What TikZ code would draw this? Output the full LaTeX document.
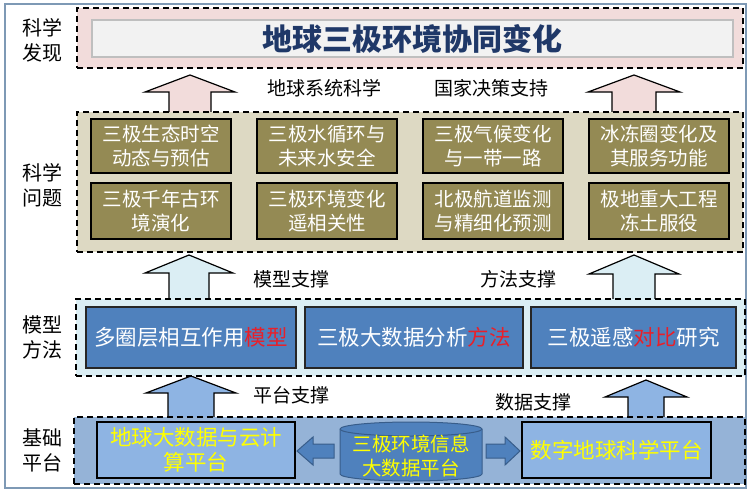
\documentclass[tikz,border=0pt]{standalone}
\usepackage{fontspec}
\setmainfont{Noto Sans CJK SC}
\definecolor{frameC}{HTML}{7E99B5}
\definecolor{pinkC}{HTML}{F2DCDB}
\definecolor{grayBoxC}{HTML}{F2F2F2}
\definecolor{grayLineC}{HTML}{BFBFBF}
\definecolor{titleC}{HTML}{1F3868}
\definecolor{tanC}{HTML}{DDD9C3}
\definecolor{oliveC}{HTML}{948A54}
\definecolor{lblueC}{HTML}{DBEEF4}
\definecolor{blueC}{HTML}{4F81BD}
\definecolor{botC}{HTML}{95B3D7}
\definecolor{botBoxC}{HTML}{8EB4E3}
\definecolor{cylLineC}{HTML}{385D8A}
\definecolor{yellowC}{HTML}{FFFF00}
\definecolor{redC}{HTML}{E8202A}
\newcommand\boxat[7]{\node[#6, anchor=center, inner sep=0pt, outer sep=0pt, minimum width={(#4-#2)*1pt}, minimum height={(#5-#3)*1pt}] (#1) at ({(#2+#4)/2},{(#3+#5)/2}) {#7};}
\newcommand\uparr[7]{\draw[barrow, fill=#7] (#1-#6,#4) -- (#1-#6,#3) -- (#1-#5,#3) -- (#1,#2) -- (#1+#5,#3) -- (#1+#6,#3) -- (#1+#6,#4) -- cycle;}
\begin{document}
\begin{tikzpicture}[x=1pt,y=-1pt,
  layer/.style={draw=black, line width=1.8pt, dash pattern=on 6pt off 4pt},
  olivebox/.style={draw=black, line width=1.5pt, fill=oliveC, text=white, font=\fontsize{19.5}{24}\selectfont, align=center},
  bluebox/.style={draw=black!85, line width=2pt, fill=blueC, text=white, font=\fontsize{21.5}{26}\selectfont},
  botbox/.style={draw=black, line width=2pt, fill=botBoxC, text=yellowC, font=\fontsize{21.5}{25}\selectfont, align=center},
  side/.style={font=\fontsize{20}{25}\selectfont, align=center},
  lab/.style={font=\fontsize{19}{22}\selectfont},
  barrow/.style={draw=black, line width=1.2pt, line join=miter},
  smallarr/.style={draw=cylLineC, line width=1pt, fill=blueC}
]
\path[use as bounding box] (0,0) rectangle (752,495);
\draw[frameC, line width=1.2pt] (5,4) rectangle (746,488);

% block arrows (drawn first, layer boxes cover their feet)
\uparr{190}{75}{92}{114}{45}{21}{pinkC}
\uparr{634}{75}{92}{114}{46}{22}{pinkC}
\uparr{189}{255}{273}{301}{44}{20}{lblueC}
\uparr{634}{255}{274}{301}{45}{21}{lblueC}
\uparr{191}{376}{393}{419}{45}{23}{botBoxC}
\uparr{646}{380}{397}{419}{41}{18}{botBoxC}

% layer 1
\boxat{L1}{77}{8}{743}{68}{layer, fill=pinkC}{}
\boxat{title}{92}{20}{733}{57}{draw=grayLineC, line width=1.5pt, fill=grayBoxC, text=titleC, font=\bfseries\fontsize{30}{36}\selectfont}{地球三极环境协同变化}
\node[side] (s1) at (42,40) {科学\\发现};
\node[lab] (t1) at (324,88) {地球系统科学};
\node[lab] (t2) at (491,88) {国家决策支持};

% layer 2
\boxat{L2}{77}{112}{743}{252}{layer, fill=tanC}{}
\node[side] (s2) at (42,185) {科学\\问题};
\boxat{q1}{91}{119}{231}{173}{olivebox}{三极生态时空\\动态与预估}
\boxat{q2}{257}{119}{397}{173}{olivebox}{三极水循环与\\未来水安全}
\boxat{q3}{423}{119}{563}{173}{olivebox}{三极气候变化\\与一带一路}
\boxat{q4}{589}{119}{729}{173}{olivebox}{冰冻圈变化及\\其服务功能}
\boxat{q5}{91}{183}{231}{239}{olivebox}{三极千年古环\\境演化}
\boxat{q6}{257}{183}{397}{239}{olivebox}{三极环境变化\\遥相关性}
\boxat{q7}{423}{183}{563}{239}{olivebox}{北极航道监测\\与精细化预测}
\boxat{q8}{589}{183}{729}{239}{olivebox}{极地重大工程\\冻土服役}
\node[lab] (t3) at (291,279) {模型支撑};
\node[lab] (t4) at (518,279) {方法支撑};

% layer 3
\boxat{L3}{76}{299}{745}{376}{layer, fill=lblueC}{}
\node[side] (s3) at (42,337) {模型\\方法};
\boxat{m1}{86}{307}{296}{368}{bluebox}{多圈层相互作用{\color{redC}模型}}
\boxat{m2}{305}{307}{523}{368}{bluebox}{三极大数据分析{\color{redC}方法}}
\boxat{m3}{531}{307}{736}{368}{bluebox}{三极遥感{\color{redC}对比}研究}
\node[lab] (t5) at (291,395) {平台支撑};
\node[lab] (t6) at (533,402) {数据支撑};

% layer 4
\boxat{L4}{74}{417}{745}{484}{layer, fill=botC}{}
\node[side] (s4) at (42,450) {基础\\平台};
\boxat{p1}{97}{422}{295}{478}{botbox}{地球大数据与云计\\算平台}
\boxat{p2}{522}{422}{711}{478}{botbox}{数字地球科学平台}
\path[draw=cylLineC, line width=1pt, fill=blueC] (340,429) -- (340,474) arc[start angle=180, end angle=360, x radius=71pt, y radius=7pt] -- (482,429) arc[start angle=0, end angle=180, x radius=71pt, y radius=7pt] -- cycle;
\draw[cylLineC, line width=1pt] (340,429) arc[start angle=180, end angle=360, x radius=71pt, y radius=7pt];
\node[font=\fontsize{19.5}{24}\selectfont, text=yellowC, align=center] (db) at (411,456) {三极环境信息\\大数据平台};
\draw[smallarr] (334,444) -- (313,444) -- (313,437) -- (297,451) -- (313,465) -- (313,458) -- (334,458) -- cycle;
\draw[smallarr] (486,444) -- (505,444) -- (505,437) -- (520,451) -- (505,465) -- (505,458) -- (486,458) -- cycle;
\end{tikzpicture}
\end{document}
